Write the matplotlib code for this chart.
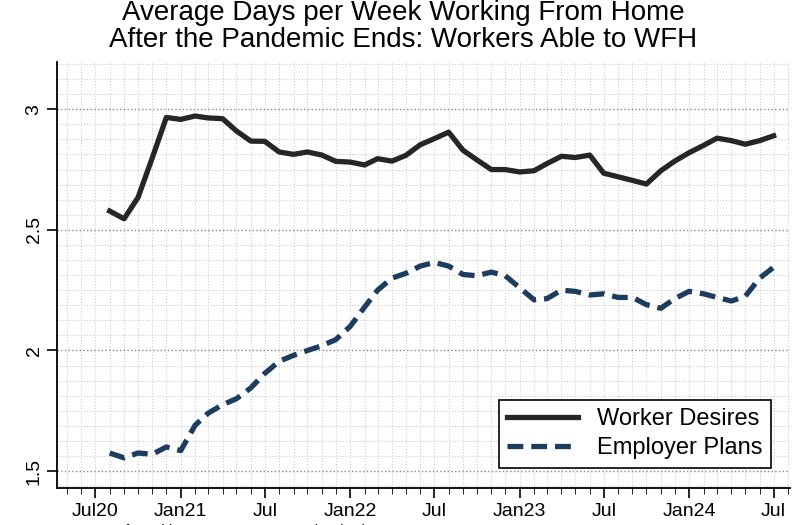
import numpy as np
import matplotlib.pyplot as plt
import matplotlib.dates as mdates
from matplotlib.ticker import MultipleLocator

plt.rcParams['font.family'] = 'Liberation Sans'

# monthly data, Aug 2020 - Jul 2024
months = np.arange(np.datetime64('2020-08'), np.datetime64('2024-08'), dtype='datetime64[M]').astype('datetime64[D]')

worker_desires = [2.578, 2.546, 2.634, 2.80, 2.966,
                  2.958, 2.972, 2.964, 2.961, 2.91, 2.868, 2.867, 2.823, 2.813, 2.823, 2.81, 2.784,
                  2.781, 2.769, 2.795, 2.785, 2.809, 2.853, 2.878, 2.905, 2.83, 2.79, 2.75, 2.75,
                  2.74, 2.745, 2.775, 2.805, 2.80, 2.81, 2.735, 2.72, 2.705, 2.69, 2.745, 2.785,
                  2.82, 2.85, 2.88, 2.87, 2.855, 2.87, 2.89]
employer_plans = [1.575, 1.555, 1.575, 1.57, 1.60,
                  1.585, 1.69, 1.74, 1.775, 1.80, 1.845, 1.905, 1.955, 1.98, 2.0, 2.02, 2.045,
                  2.10, 2.18, 2.25, 2.30, 2.32, 2.35, 2.365, 2.35, 2.315, 2.31, 2.325, 2.31,
                  2.26, 2.21, 2.215, 2.25, 2.245, 2.23, 2.235, 2.22, 2.22, 2.19, 2.175, 2.215,
                  2.245, 2.235, 2.22, 2.205, 2.225, 2.30, 2.345]

tick_dates = ['2020-07-01', '2021-01-01', '2021-07-01', '2022-01-01', '2022-07-01',
              '2023-01-01', '2023-07-01', '2024-01-01', '2024-07-01']
tick_labels = ['Jul20', 'Jan21', 'Jul', 'Jan22', 'Jul', 'Jan23', 'Jul', 'Jan24', 'Jul']

fig = plt.figure(figsize=(8.06, 5.25), dpi=100)
ax = fig.add_axes([0.071, 0.0705, 0.909, 0.811])

ax.plot(months, worker_desires, color='#262626', lw=3.8, label='Worker Desires')
ax.plot(months, employer_plans, color='#1c3d5e', lw=3.8, ls=(0, (3.0, 1.5)), label='Employer Plans')

ax.set_xlim(np.datetime64('2020-04-10'), np.datetime64('2024-08-05'))
ax.set_ylim(1.43, 3.195)
ax.set_xticks(np.array(tick_dates, dtype='datetime64[D]'))
ax.set_xticklabels(tick_labels, fontsize=14)
ax.xaxis.set_minor_locator(mdates.MonthLocator())
ax.set_yticks([1.5, 2, 2.5, 3])
ax.set_yticklabels(['1.5', '2', '2.5', '3'], fontsize=14, rotation=90, va='center')
ax.yaxis.set_minor_locator(MultipleLocator(0.0625))
ax.tick_params(which='major', length=7, width=1.2)
ax.tick_params(axis='y', which='minor', length=0)
ax.tick_params(axis='x', which='minor', length=4)
ax.grid(True, which='major', axis='y', ls=':', color='#888888', lw=1)
ax.grid(True, which='minor', ls=':', color='#cccccc', lw=0.8)
ax.grid(True, which='major', axis='x', ls=':', color='#cccccc', lw=0.8)
for s in ['top', 'right']:
    ax.spines[s].set_visible(False)
for s in ['left', 'bottom']:
    ax.spines[s].set_linewidth(1.3)

leg = ax.legend(loc='lower right', fontsize=17, handlelength=3.0, fancybox=False,
                edgecolor='black', framealpha=1, borderpad=0.35, labelspacing=0.3,
                bbox_to_anchor=(0.99, 0.02))
leg.get_frame().set_linewidth(1.2)

fig.suptitle('Average Days per Week Working From Home\nAfter the Pandemic Ends: Workers Able to WFH',
             fontsize=20, y=1.0, linespacing=1.05)
fig.text(0.01, -0.012, 'Source: Survey of Working Arrangements and Attitudes', fontsize=11, va='center')

plt.savefig('out.png')
